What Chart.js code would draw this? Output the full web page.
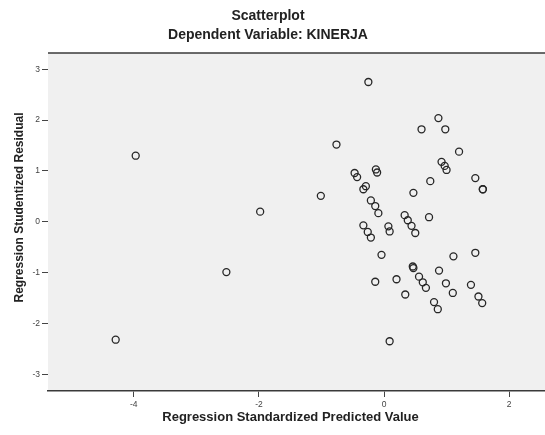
<!DOCTYPE html>
<html>
<head>
<meta charset="utf-8">
<script src="https://cdn.jsdelivr.net/npm/chart.js@4/dist/chart.umd.min.js"></script>
<style>
  html, body { margin: 0; padding: 0; background: #ffffff; }
  #wrap { width: 545px; height: 435px; }
</style>
</head>
<body>
<div id="wrap"><canvas id="c" width="545" height="435"></canvas></div>
<script>
const chartTitle = "Scatterplot";
const chartSubtitle = "Dependent Variable: KINERJA";
const xAxisTitle = "Regression Standardized Predicted Value";
const yAxisTitle = "Regression Studentized Residual";

const xTicks = [-4, -2, 0, 2];
const yTicks = [-3, -2, -1, 0, 1, 2, 3];

const predictedValues = [
  -3.97, -1.01, -1.98, -2.52, -4.29, -0.25, 0.87, 0.60, 0.98, -0.76,
  1.20, 0.92, 0.97, 1.00, -0.13, -0.11, -0.47, -0.43, 1.46, 1.58,
  1.58, 0.74, -0.33, -0.29, 0.47, -0.21, -0.14, -0.09, 0.72, 0.33,
  0.38, 0.44, 0.50, -0.33, -0.26, -0.21, 0.07, 0.09, -0.04, 1.11,
  1.46, 0.46, 0.47, 0.88, -0.14, 0.20, 0.56, 0.62, 0.67, 0.99,
  1.39, 1.10, 0.34, 1.51, 1.57, 0.80, 0.86, 0.09
];
const studentizedResiduals = [
  1.30, 0.51, 0.20, -0.99, -2.32, 2.75, 2.04, 1.82, 1.82, 1.52,
  1.38, 1.18, 1.10, 1.02, 1.03, 0.97, 0.96, 0.88, 0.86, 0.64,
  0.64, 0.80, 0.64, 0.70, 0.57, 0.42, 0.31, 0.17, 0.09, 0.13,
  0.03, -0.08, -0.22, -0.07, -0.20, -0.31, -0.09, -0.19, -0.65, -0.68,
  -0.61, -0.88, -0.91, -0.96, -1.18, -1.13, -1.08, -1.19, -1.30, -1.21,
  -1.24, -1.40, -1.43, -1.47, -1.60, -1.58, -1.72, -2.35
];

const points = predictedValues.map((x, i) => ({ x: x, y: studentizedResiduals[i] }));

const frame = {
  id: 'frame',
  beforeDraw(chart) {
    const { ctx, chartArea: a } = chart;
    ctx.save();
    ctx.fillStyle = '#f0f0f0';
    ctx.fillRect(a.left, a.top, a.right - a.left, a.bottom - a.top);
    ctx.restore();
  },
  afterDraw(chart) {
    const { ctx, chartArea: a } = chart;
    ctx.save();
    ctx.strokeStyle = '#3a3a3a';
    ctx.lineWidth = 1.6;
    ctx.beginPath();
    ctx.moveTo(a.left, a.top);
    ctx.lineTo(a.right, a.top);
    ctx.stroke();

    ctx.fillStyle = '#222';
    ctx.textAlign = 'center';
    ctx.textBaseline = 'alphabetic';
    ctx.font = 'bold 14px "Liberation Sans", Arial, sans-serif';
    ctx.fillText(chartTitle, 268, 19.5);
    ctx.fillText(chartSubtitle, 268, 39);
    ctx.font = 'bold 13px "Liberation Sans", Arial, sans-serif';
    ctx.fillText(xAxisTitle, 290.5, 421);
    ctx.translate(23, 207.5);
    ctx.rotate(-Math.PI / 2);
    ctx.font = 'bold 12px "Liberation Sans", Arial, sans-serif';
    ctx.fillText(yAxisTitle, 0, 0);
    ctx.restore();
  }
};

new Chart(document.getElementById('c'), {
  type: 'scatter',
  data: {
    datasets: [{
      data: points,
      pointRadius: 3.5,
      pointHoverRadius: 3.5,
      pointBorderWidth: 1.3,
      pointBorderColor: '#262626',
      pointBackgroundColor: 'rgba(0,0,0,0)'
    }]
  },
  options: {
    responsive: false,
    animation: false,
    devicePixelRatio: 1,
    layout: { autoPadding: false, padding: { top: 53, left: 0, right: 0, bottom: 0 } },
    plugins: {
      legend: { display: false },
      tooltip: { enabled: false },
      title: { display: false }
    },
    scales: {
      x: {
        type: 'linear',
        min: -5.372,
        max: 2.574,
        afterBuildTicks(scale) { scale.ticks = xTicks.map(v => ({ value: v })); },
        afterFit(scale) { scale.height = 44; scale.paddingLeft = 0; scale.paddingRight = 0; },
        border: { display: true, color: '#3a3a3a', width: 1.6 },
        grid: { drawOnChartArea: false, drawTicks: true, tickLength: 6, color: '#444', lineWidth: 1 },
        ticks: {
          color: '#444',
          padding: 3,
          maxRotation: 0,
          font: { family: '"Liberation Sans", Arial, sans-serif', size: 8.5 },
          callback: v => String(v)
        },
        title: { display: false }
      },
      y: {
        type: 'linear',
        min: -3.329,
        max: 3.321,
        afterBuildTicks(scale) { scale.ticks = yTicks.map(v => ({ value: v })); },
        afterFit(scale) { scale.width = 48; scale.paddingTop = 0; scale.paddingBottom = 0; },
        border: { display: false },
        grid: { drawOnChartArea: false, drawTicks: true, tickLength: 6, color: '#444', lineWidth: 1 },
        ticks: {
          color: '#444',
          padding: 2,
          font: { family: '"Liberation Sans", Arial, sans-serif', size: 8.5 },
          callback: v => String(v)
        },
        title: { display: false }
      }
    }
  },
  plugins: [frame]
});
</script>
</body>
</html>
